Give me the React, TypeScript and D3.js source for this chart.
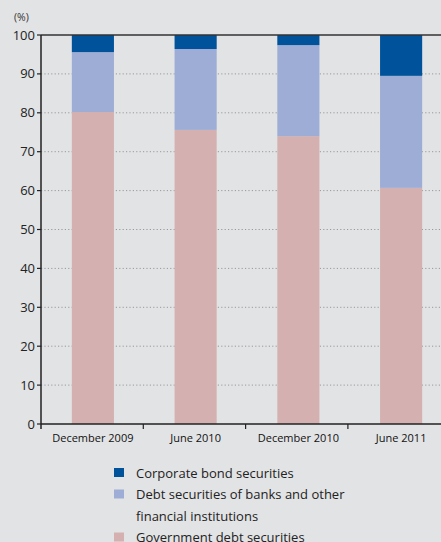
import React from "react";
import * as d3 from "d3";

const categories = ["December 2009", "June 2010", "December 2010", "June 2011"];
const government = [80.2, 75.6, 74.0, 60.7];
const banks = [15.4, 20.8, 23.4, 28.8];
const corporate = [4.4, 3.6, 2.6, 10.5];
const yTicks = [0, 10, 20, 30, 40, 50, 60, 70, 80, 90, 100];
const colors = { corporate: "#00529b", banks: "#9eadd5", government: "#d4b1b0" };

const W = 441;
const H = 542;
const left = 41;
const top = 35;
const bottom = 424;
const bandW = 102.3;

export default function App() {
  const y = d3.scaleLinear().domain([0, 100]).range([bottom, top]);
  const x = d3
    .scaleBand<string>()
    .domain(categories)
    .range([left, left + 103 * categories.length])
    .paddingInner(0.59)
    .paddingOuter(0.3);
  const keys = ["government", "banks", "corporate"] as const;
  const rows = categories.map((c, i) => ({
    cat: c,
    government: government[i],
    banks: banks[i],
    corporate: corporate[i],
  }));
  const stack = d3.stack<any>().keys(keys as any)(rows);
  const font = "'Open Sans', 'Noto Sans', sans-serif";
  const legend = [
    { color: colors.corporate, lines: ["Corporate bond securities"] },
    { color: colors.banks, lines: ["Debt securities of banks and other", "financial institutions"] },
    { color: colors.government, lines: ["Government debt securities"] },
  ];
  let ly = 473;
  const lineH = 21.5;
  return (
    <svg
      width={W}
      height={H}
      style={{ position: "fixed", left: 0, top: 0, display: "block" }}
      fontFamily={font}
    >
      <rect x={0} y={0} width={W} height={H} fill="#e2e3e5" />
      <text x={14} y={21} fontSize={10.5} fill="#333">(%)</text>
      {yTicks.filter((t) => t > 0 && t < 100).map((t) => (
        <line key={t} x1={left} x2={W} y1={y(t)} y2={y(t)} stroke="#999" strokeWidth={1} strokeDasharray="1.2,2.2" />
      ))}
      {stack.map((s) => (
        <g key={s.key} fill={(colors as any)[s.key]}>
          {s.map((d, i) => (
            <rect key={i} x={x(categories[i])} width={x.bandwidth()} y={y(d[1])} height={y(d[0]) - y(d[1])} />
          ))}
        </g>
      ))}
      <line x1={left} x2={W} y1={top} y2={top} stroke="#333" strokeWidth={1.5} />
      <line x1={left} x2={W} y1={bottom} y2={bottom} stroke="#222" strokeWidth={1.5} />
      <line x1={left} x2={left} y1={top} y2={bottom + 5} stroke="#222" strokeWidth={1.5} />
      {yTicks.map((t) => (
        <g key={t}>
          <line x1={left - 4} x2={left} y1={y(t)} y2={y(t)} stroke="#222" strokeWidth={1.2} />
          <text x={left - 6} y={y(t)} dy="0.35em" textAnchor="end" fontSize={13} fill="#222">
            {t}
          </text>
        </g>
      ))}
      {categories.map((c, i) => {
        const b0 = left + bandW * i;
        return (
          <g key={c}>
            {i > 0 && <line x1={b0} x2={b0} y1={bottom} y2={bottom + 5} stroke="#222" strokeWidth={1.2} />}
            <text x={(x(c) as number) + x.bandwidth() / 2} y={442} textAnchor="middle" fontSize={11} fill="#111">
              {c}
            </text>
          </g>
        );
      })}
      {legend.map((l, i) => {
        const y0 = ly;
        ly += l.lines.length * lineH;
        return (
          <g key={i}>
            <rect x={114} y={y0 - 5} width={10} height={9} fill={l.color} />
            {l.lines.map((t, j) => (
              <text key={j} x={136} y={y0 + j * lineH} dy="0.35em" fontSize={13} fill="#222">
                {t}
              </text>
            ))}
          </g>
        );
      })}
    </svg>
  );
}
